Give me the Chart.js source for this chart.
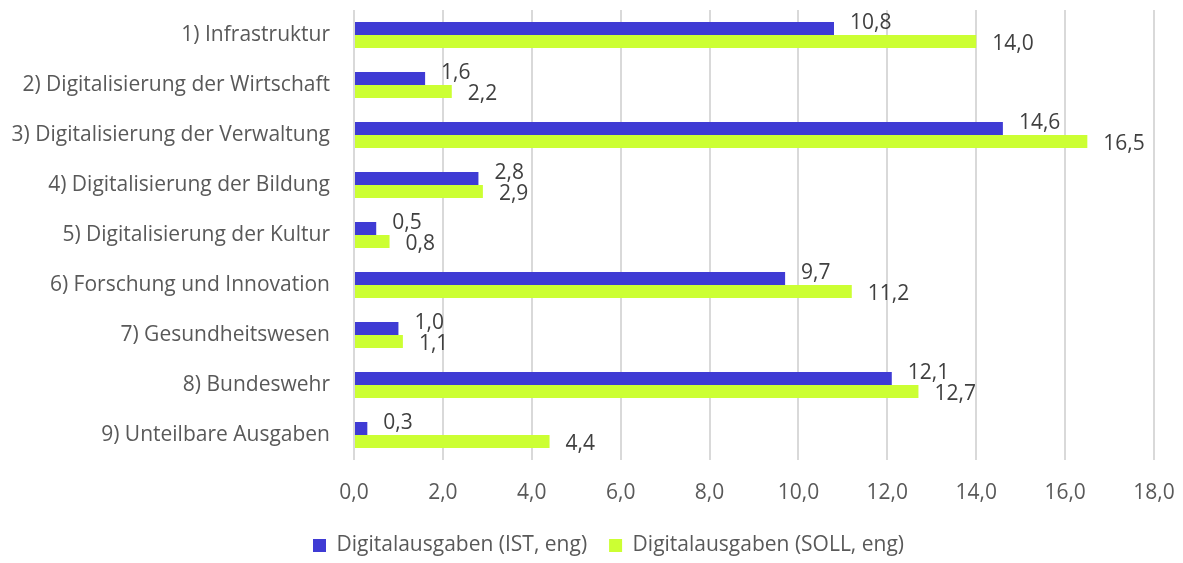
<!DOCTYPE html>
<html>
<head>
<meta charset="utf-8">
<script src="https://cdn.jsdelivr.net/npm/chart.js@4.4.1/dist/chart.umd.min.js"></script>
<style>
  html, body { margin: 0; padding: 0; background: #fff; }
  #wrap { width: 1183px; height: 563px; }
</style>
</head>
<body>
<div id="wrap"><canvas id="chart" width="1183" height="563"></canvas></div>
<script>
// ---- data ----
const categories = [
    '1) Infrastruktur',
    '2) Digitalisierung der Wirtschaft',
    '3) Digitalisierung der Verwaltung',
    '4) Digitalisierung der Bildung',
    '5) Digitalisierung der Kultur',
    '6) Forschung und Innovation',
    '7) Gesundheitswesen',
    '8) Bundeswehr',
    '9) Unteilbare Ausgaben'
];
const istValues = [10.8, 1.6, 14.6, 2.8, 0.5, 9.7, 1.0, 12.1, 0.3];
const sollValues = [14.0, 2.2, 16.5, 2.9, 0.8, 11.2, 1.1, 12.7, 4.4];
const seriesNames = ['Digitalausgaben (IST, eng)', 'Digitalausgaben (SOLL, eng)'];

const FONT = '"Open Sans", "Noto Sans", sans-serif';
const SIZE = 21;
const fmt = v => v.toFixed(1).replace('.', ',');

// value labels at the bar ends (Excel-style "outside end")
const labelOffsets = [-5.5, 2.5];
const valueLabels = {
    id: 'valueLabels',
    afterLayout(chart) {
        // legend in the original sits a bit right of the canvas centre
        chart.legend.left += 63;
    },
    afterDatasetsDraw(chart) {
        const ctx = chart.ctx;
        ctx.save();
        ctx.font = SIZE + 'px ' + FONT;
        ctx.fillStyle = '#404040';
        ctx.textBaseline = 'middle';
        ctx.textAlign = 'left';
        chart.data.datasets.forEach((ds, di) => {
            chart.getDatasetMeta(di).data.forEach((el, i) => {
                ctx.fillText(fmt(ds.data[i]), el.x + 16, el.y + labelOffsets[di]);
            });
        });
        ctx.restore();
    }
};

new Chart(document.getElementById('chart'), {
    type: 'bar',
    data: {
        labels: categories,
        datasets: [
            { label: seriesNames[0], data: istValues, backgroundColor: '#3f3bd4' },
            { label: seriesNames[1], data: sollValues, backgroundColor: '#ccff33' }
        ]
    },
    options: {
        indexAxis: 'y',
        responsive: false,
        animation: false,
        layout: { padding: { top: 10, right: 29, left: 0, bottom: -3 } },
        datasets: { bar: { categoryPercentage: 0.52, barPercentage: 1 } },
        scales: {
            x: {
                min: 0, max: 18,
                ticks: { stepSize: 2, color: '#595959', font: { family: FONT, size: SIZE }, padding: 20, callback: v => fmt(v) },
                grid: { color: '#d9d9d9', lineWidth: 2, drawTicks: false },
                border: { display: false },
                afterFit: s => { s.height = 53; s.paddingLeft = 0; s.paddingRight = 0; }
            },
            y: {
                ticks: { color: '#595959', font: { family: FONT, size: SIZE }, padding: 24 },
                grid: { display: false, drawTicks: false },
                border: { display: false },
                afterFit: s => { s.width = 354; s.paddingTop = 0; s.paddingBottom = 0; }
            }
        },
        plugins: {
            legend: {
                position: 'bottom',
                labels: { color: '#595959', font: { family: FONT, size: SIZE }, boxWidth: 13, boxHeight: 13, padding: 22 }
            },
            tooltip: { enabled: false }
        }
    },
    plugins: [valueLabels]
});
</script>
</body>
</html>
